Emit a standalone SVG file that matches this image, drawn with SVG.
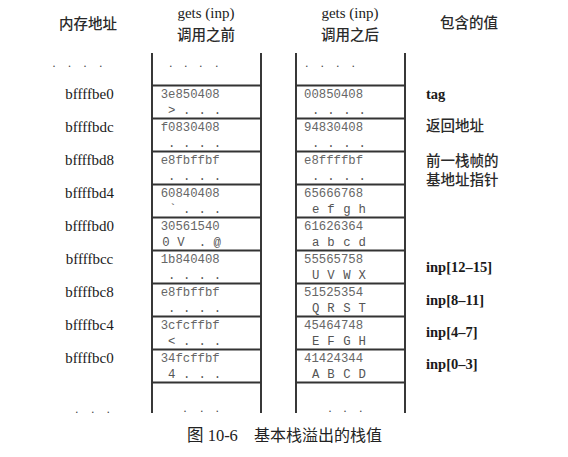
<svg xmlns="http://www.w3.org/2000/svg" width="568" height="457" viewBox="0 0 568 457">
<style>
.bg{fill:#fff}
.hd{font-family:"Liberation Serif","Noto Sans CJK SC",serif;font-size:15px;fill:#222;text-anchor:middle}
.cn{font-family:"Noto Sans CJK SC",sans-serif;font-size:14.5px;fill:#2a2a2a;font-weight:500}
.cnh{font-family:"Noto Sans CJK SC",sans-serif;font-size:14.5px;fill:#2a2a2a;font-weight:500;text-anchor:middle}
.addr{font-family:"Liberation Serif",serif;font-size:15px;fill:#1a1a1a;text-anchor:middle}
.lab{font-family:"Liberation Serif",serif;font-size:14.5px;fill:#1a1a1a;font-weight:bold}
.hex{font-family:"Liberation Mono",monospace;font-size:12.3px;fill:#666}
.ch{font-family:"Liberation Mono",monospace;font-size:12.3px;fill:#555;text-anchor:middle}
.dot{font-family:"Liberation Serif",serif;font-size:12px;fill:#444;text-anchor:middle}
.side{stroke:#222;stroke-width:1.8;fill:none}
.row{stroke:#333;stroke-width:2;fill:none}
.cap{font-family:"Liberation Serif","Noto Sans CJK SC",serif;font-size:16.5px;fill:#222}
</style>
<rect class="bg" x="0" y="0" width="568" height="457"/>

<g id="headers">
<text class="cnh" x="88" y="29">内存地址</text>
<text class="hd" x="206" y="18">gets (inp)</text>
<text class="cnh" x="206" y="40">调用之前</text>
<text class="hd" x="350" y="18">gets (inp)</text>
<text class="cnh" x="350" y="40">调用之后</text>
<text class="cnh" x="469" y="28">包含的值</text>
</g>

<g id="connectors">
<line class="side" x1="152" y1="53" x2="152" y2="413"/>
<line class="side" x1="261" y1="53" x2="261" y2="413"/>
<line class="side" x1="296" y1="53" x2="296" y2="413"/>
<line class="side" x1="405" y1="53" x2="405" y2="413"/>
<g class="row">
<path d="M152 85.5H261M152 118.5H261M152 151.5H261M152 184.5H261M152 217.5H261M152 250.5H261M152 283.5H261M152 316.5H261M152 349.5H261M152 382.5H261"/>
<path d="M296 85.5H405M296 118.5H405M296 151.5H405M296 184.5H405M296 217.5H405M296 250.5H405M296 283.5H405M296 316.5H405M296 349.5H405M296 382.5H405"/>
</g>
</g>

<g id="top-dots">
<text class="dot" x="54 69.5 85 100.7" y="67">....</text>
<text class="dot" x="170.7 185.7 200.7 216.7" y="67">....</text>
<text class="dot" x="306.7 322.3 337.7 353.3" y="67">....</text>
</g>

<g id="addresses">
<text class="addr" x="89.5" y="99">bffffbe0</text>
<text class="addr" x="89.5" y="132">bffffbdc</text>
<text class="addr" x="89.5" y="165">bffffbd8</text>
<text class="addr" x="89.5" y="198">bffffbd4</text>
<text class="addr" x="89.5" y="231">bffffbd0</text>
<text class="addr" x="89.5" y="264">bffffbcc</text>
<text class="addr" x="89.5" y="297">bffffbc8</text>
<text class="addr" x="89.5" y="330">bffffbc4</text>
<text class="addr" x="89.5" y="363">bffffbc0</text>
</g>

<g id="before">
<text class="hex" x="160.7" y="98">3e850408</text>
<text class="ch" x="171.7 186.7 202.3 217.5" y="114">&gt;...</text>
<text class="hex" x="160.7" y="131">f0830408</text>
<text class="ch" x="171.7 186.7 202.3 217.5" y="147">....</text>
<text class="hex" x="160.7" y="164">e8fbffbf</text>
<text class="ch" x="171.7 186.7 202.3 217.5" y="180">....</text>
<text class="hex" x="160.7" y="197">60840408</text>
<text class="ch" x="173 186.7 202.3 217.5" y="213">`...</text>
<text class="hex" x="160.7" y="230">30561540</text>
<text class="ch" x="166 181 202.5 217.3" y="246">0V.@</text>
<text class="hex" x="160.7" y="263">1b840408</text>
<text class="ch" x="171.7 186.7 202.3 217.5" y="279">....</text>
<text class="hex" x="160.7" y="296">e8fbffbf</text>
<text class="ch" x="171.7 186.7 202.3 217.5" y="312">....</text>
<text class="hex" x="160.7" y="329">3cfcffbf</text>
<text class="ch" x="171.7 186.7 202.3 217.5" y="345">&lt;...</text>
<text class="hex" x="160.7" y="362">34fcffbf</text>
<text class="ch" x="171.7 186.7 202.3 217.5" y="378">4...</text>
</g>

<g id="after">
<text class="hex" x="304" y="98">00850408</text>
<text class="ch" x="315.7 331 347 362.3" y="114">....</text>
<text class="hex" x="304" y="131">94830408</text>
<text class="ch" x="315.7 331 347 362.3" y="147">....</text>
<text class="hex" x="304" y="164">e8ffffbf</text>
<text class="ch" x="315.7 331 347 362.3" y="180">....</text>
<text class="hex" x="304" y="197">65666768</text>
<text class="ch" x="315.7 331 347 362.3" y="213">efgh</text>
<text class="hex" x="304" y="230">61626364</text>
<text class="ch" x="315.7 331 347 362.3" y="246">abcd</text>
<text class="hex" x="304" y="263">55565758</text>
<text class="ch" x="315.7 331 347 362.3" y="279">UVWX</text>
<text class="hex" x="304" y="296">51525354</text>
<text class="ch" x="315.7 331 347 362.3" y="312">QRST</text>
<text class="hex" x="304" y="329">45464748</text>
<text class="ch" x="315.7 331 347 362.3" y="345">EFGH</text>
<text class="hex" x="304" y="362">41424344</text>
<text class="ch" x="315.7 331 347 362.3" y="378">ABCD</text>
</g>

<g id="labels">
<text class="lab" x="426" y="99">tag</text>
<text class="cn" x="426" y="131">返回地址</text>
<text class="cn" x="426" y="166">前一栈帧的</text>
<text class="cn" x="426" y="185">基地址指针</text>
<text class="lab" x="426" y="272">inp[12–15]</text>
<text class="lab" x="426" y="305">inp[8–11]</text>
<text class="lab" x="426" y="337">inp[4–7]</text>
<text class="lab" x="426" y="369">inp[0–3]</text>
</g>

<g id="bottom-dots">
<text class="dot" x="76.7 92.7 108.3" y="413">...</text>
<text class="dot" x="185 201.7 217.3" y="412">...</text>
<text class="dot" x="330 345 360.7" y="412">...</text>
</g>

<g id="caption">
<text class="cap" y="441"><tspan x="187">图 10-6</tspan><tspan x="254" font-family="Noto Sans CJK SC, sans-serif" font-size="16px">基本栈溢出的栈值</tspan></text>
</g>
</svg>
